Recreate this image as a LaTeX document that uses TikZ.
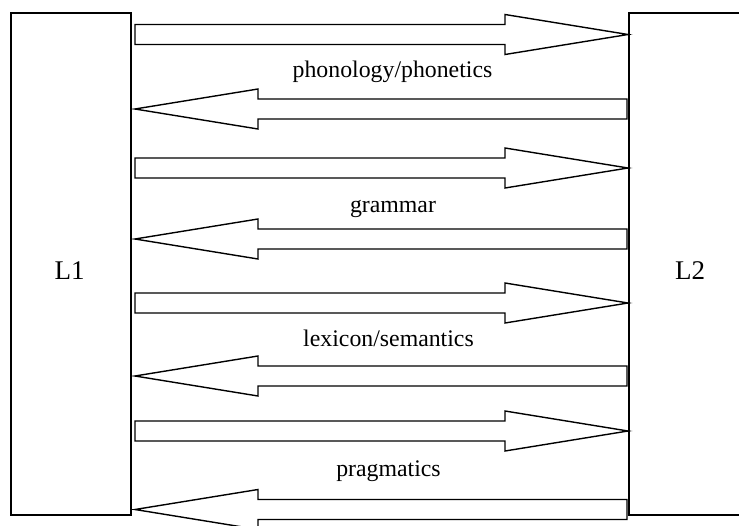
\documentclass[tikz,border=0pt]{standalone}
\usepackage{fontspec}
\setmainfont{Liberation Serif}
\newcommand{\rightblock}[1]{%
  \draw[blockline] (135,#1-10) -- (505,#1-10) -- (505,#1-20) -- (628,#1) -- (505,#1+20) -- (505,#1+10) -- (135,#1+10) -- cycle;}
\newcommand{\leftblock}[1]{%
  \draw[blockline] (627,#1-10) -- (258,#1-10) -- (258,#1-20) -- (135,#1) -- (258,#1+20) -- (258,#1+10) -- (627,#1+10) -- cycle;}
\begin{document}
\begin{tikzpicture}[x=1pt,y=-1pt,
  blockline/.style={draw=black,line width=1.4pt,line join=miter,fill=white},
  langbox/.style={draw=black,line width=1.4pt},
  labeltext/.style={font=\fontsize{23.8}{26}\selectfont,anchor=base,inner sep=0pt},
  langtext/.style={font=\fontsize{27}{30}\selectfont,anchor=base,inner sep=0pt}]
\useasboundingbox (0,0) rectangle (739,525);
\clip (0,0) rectangle (739,525);
\fill[white] (0,0) rectangle (739,525);
\draw[langbox] (11,13) rectangle (131,515);
\draw[langbox] (629,13) rectangle (760,515);
\node[langtext] (l1) at (69.5,279) {L1};
\node[langtext] (l2) at (690,279) {L2};
\rightblock{34.5}
\leftblock{109}
\rightblock{168}
\leftblock{239}
\rightblock{303}
\leftblock{376}
\rightblock{431}
\leftblock{509.5}
\node[labeltext] (phon) at (392.5,77.3) {phonology/phonetics};
\node[labeltext] (gram) at (393,212) {grammar};
\node[labeltext] (lex) at (388.5,346.7) {lexicon/semantics};
\node[labeltext] (prag) at (388.5,476.7) {pragmatics};
\end{tikzpicture}
\end{document}
